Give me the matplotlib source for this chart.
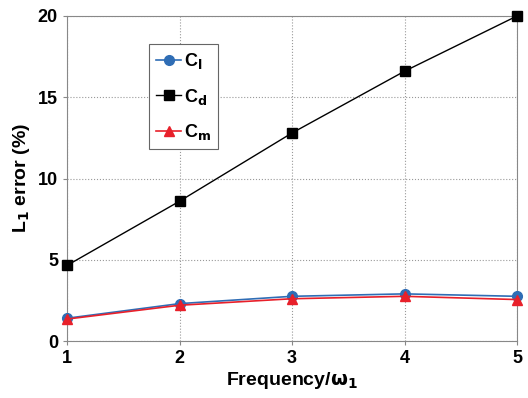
import matplotlib
matplotlib.use("Agg")
import matplotlib.pyplot as plt

# data
freq = [1, 2, 3, 4, 5]
c_l = [1.4, 2.3, 2.75, 2.9, 2.75]
c_d = [4.65, 8.6, 12.8, 16.6, 20.0]
c_m = [1.35, 2.2, 2.6, 2.75, 2.55]
y_ticks = [0, 5, 10, 15, 20]

plt.rcParams["font.family"] = ["Liberation Sans", "DejaVu Sans"]
plt.rcParams["font.weight"] = "bold"

fig = plt.figure(figsize=(5.28, 3.98), dpi=100)
ax = fig.add_axes([67 / 528, 1 - 341 / 398, 450 / 528, 325 / 398])

ax.plot(freq, c_l, "-o", color="#2f6db5", lw=1.2, ms=7, clip_on=False, zorder=3,
        label=r"C$_\mathbf{l}$")
ax.plot(freq, c_d, "-s", color="black", lw=1.0, ms=6.5, clip_on=False, zorder=3,
        label=r"C$_\mathbf{d}$")
ax.plot(freq, c_m, "-^", color="#e8202a", lw=1.2, ms=7, clip_on=False, zorder=4,
        label=r"C$_\mathbf{m}$")

ax.set_xlim(1, 5)
ax.set_ylim(0, 20)
ax.set_xticks(freq)
ax.set_yticks(y_ticks)
ax.grid(True, linestyle=":", color="#999999", lw=0.8)
for s in ax.spines.values():
    s.set_color("#888888")
ax.tick_params(labelsize=13, length=3, color="#888888")
for lbl in ax.get_xticklabels() + ax.get_yticklabels():
    lbl.set_fontweight("bold")

ax.set_xlabel(r"Frequency/$\mathbf{\omega_1}$", fontsize=14, fontweight="bold", labelpad=2)
ax.set_ylabel(r"L$_\mathbf{1}$ error (%)", fontsize=14, fontweight="bold", labelpad=4)

leg = ax.legend(loc="upper left", bbox_to_anchor=(0.182, 0.914), fontsize=13,
                fancybox=False, edgecolor="#666666", framealpha=1,
                handlelength=1.4, handletextpad=0.15, borderpad=0.4,
                borderaxespad=0, labelspacing=0.85)
leg.get_frame().set_linewidth(0.8)
for t in leg.get_texts():
    t.set_fontweight("bold")

fig.savefig("out.png", dpi=100)
